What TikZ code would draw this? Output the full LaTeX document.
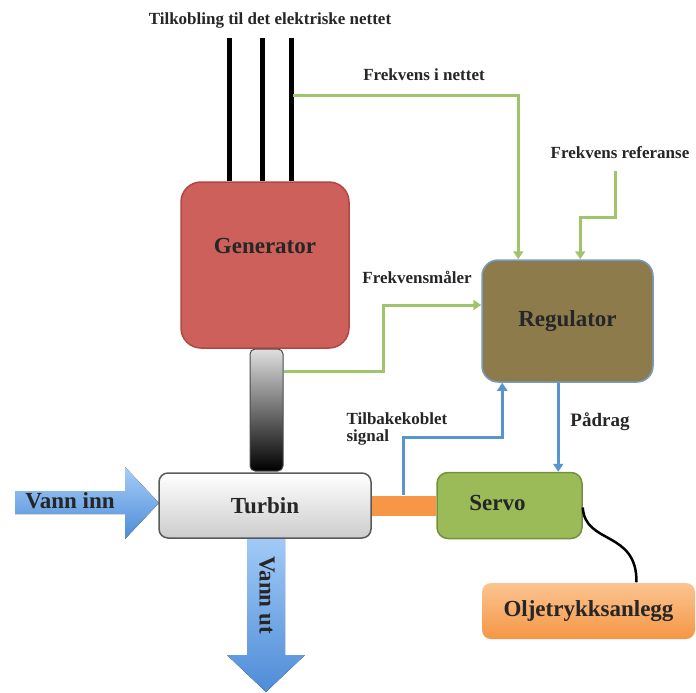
\documentclass[tikz,border=0pt]{standalone}
\usepackage{fontspec}
\setmainfont{Liberation Serif}
\usetikzlibrary{arrows.meta}

\definecolor{genred}{RGB}{205,96,90}
\definecolor{genborder}{RGB}{175,72,66}
\definecolor{regbrown}{RGB}{141,123,76}
\definecolor{regborder}{RGB}{120,155,195}
\definecolor{servogreen}{RGB}{155,187,89}
\definecolor{servoborder}{RGB}{115,145,60}
\definecolor{siggreen}{RGB}{160,196,108}
\definecolor{sigblue}{RGB}{88,148,208}
\definecolor{barorange}{RGB}{247,150,70}
\definecolor{oiltop}{RGB}{251,196,145}
\definecolor{oilbottom}{RGB}{245,150,68}
\definecolor{waterlight}{RGB}{165,205,248}
\definecolor{waterdark}{RGB}{78,140,215}

\tikzset{
  box/.style={rounded corners=#1, line width=1.5pt},
  box/.default=12pt,
  big/.style={text=black!85, font=\bfseries\fontsize{23}{26}\selectfont},
  lbl/.style={text=black!85, font=\bfseries\fontsize{17}{17}\selectfont},
  sig/.style={siggreen, line width=3pt, -{Triangle[width=10pt,length=8pt]}},
  fbk/.style={sigblue, line width=3pt, -{Triangle[width=10pt,length=8pt]}}
}

\begin{document}
\begin{tikzpicture}[x=1pt,y=-1pt]
\useasboundingbox (0,0) rectangle (696,693);

% Water
\fill[top color=waterlight, bottom color=waterdark] (15,491) -- (125,491) -- (125,467) -- (159,503) -- (125,539) -- (125,514) -- (15,514) -- cycle;
\fill[top color=waterlight, bottom color=waterdark] (247,530) -- (285,530) -- (285,655) -- (305,655) -- (266,692) -- (227,655) -- (247,655) -- cycle;
\node[big] (vinn) at (70,501) {Vann inn};
\node[big, rotate=-90] (vut) at (267,595) {Vann ut};

% Nodes
\node[box=20pt, draw=genborder, fill=genred, minimum width=168pt, minimum height=166pt] (gen) at (265,265) {};
\node[big] (gentxt) at ([yshift=19pt]gen.center) {Generator};
\node[box=5pt, draw=black!70, line width=1pt, top color=gray!25, bottom color=black, minimum width=33pt, minimum height=122pt] (shaft) at (266.5,410) {};
\node[box=9pt, draw=black!65, top color=white, bottom color=gray!40, minimum width=212pt, minimum height=65pt, big] (turb) at (265,505.5) {Turbin};
\node[box=16pt, draw=regborder, fill=regbrown, minimum width=171pt, minimum height=122pt, big] (reg) at (567.5,321) {Regulator};
\node[box=11pt, draw=servoborder, fill=servogreen, minimum width=145pt, minimum height=66pt] (servo) at (509.5,505.5) {};
\node[big] (servotxt) at ([xshift=-12pt,yshift=3pt]servo.center) {Servo};
\node[box=9pt, draw=none, top color=oiltop, bottom color=oilbottom, minimum width=213pt, minimum height=56pt, big] (olje) at (588.5,611) {Oljetrykksanlegg};

% Shaft to servo
\draw[barorange, line width=20pt] (turb.east) -- (servo.west);

% Grid connection
\node[lbl] (grid) at (270,20) {Tilkobling til det elektriske nettet};
\foreach \x [count=\i] in {229,262,291} {
  \coordinate (wire\i) at (\x,38);
  \draw[line width=5pt] (wire\i) -- (wire\i |- gen.north);
}

% Signals
\coordinate (tap) at (293,95);
\node[lbl] (fnett) at (424,75) {Frekvens i nettet};
\draw[sig] (tap) -| ([xshift=37pt]reg.north west);

\node[lbl] (fref) at (620,153) {Frekvens referanse};
\coordinate (refin) at (615,171);
\draw[sig] (refin) -- (615,217) -| ([xshift=99pt]reg.north west);

\node[lbl] (fmaal) at (417,277) {Frekvensmåler};
\draw[sig] ([yshift=39pt]shaft.east) -- (383,371) |- ([yshift=16pt]reg.west);

\coordinate (fb) at (403,495);
\node[lbl, align=left, anchor=west] (tilb) at (343,429) {Tilbakekoblet\\signal};
\draw[fbk] (fb) -- (403,437) -| ([xshift=21pt]reg.south west);

\node[lbl, font=\bfseries\fontsize{19}{19}\selectfont] (padrag) at (600,422) {Pådrag};
\draw[fbk] ([xshift=77pt]reg.south west) -- ([xshift=122pt]servo.north west);

% Oil supply
\draw[line width=2.5pt] ([yshift=-2pt]servo.east) .. controls (585,545) and (637,530) .. ([xshift=48pt]olje.north);
\end{tikzpicture}
\end{document}
